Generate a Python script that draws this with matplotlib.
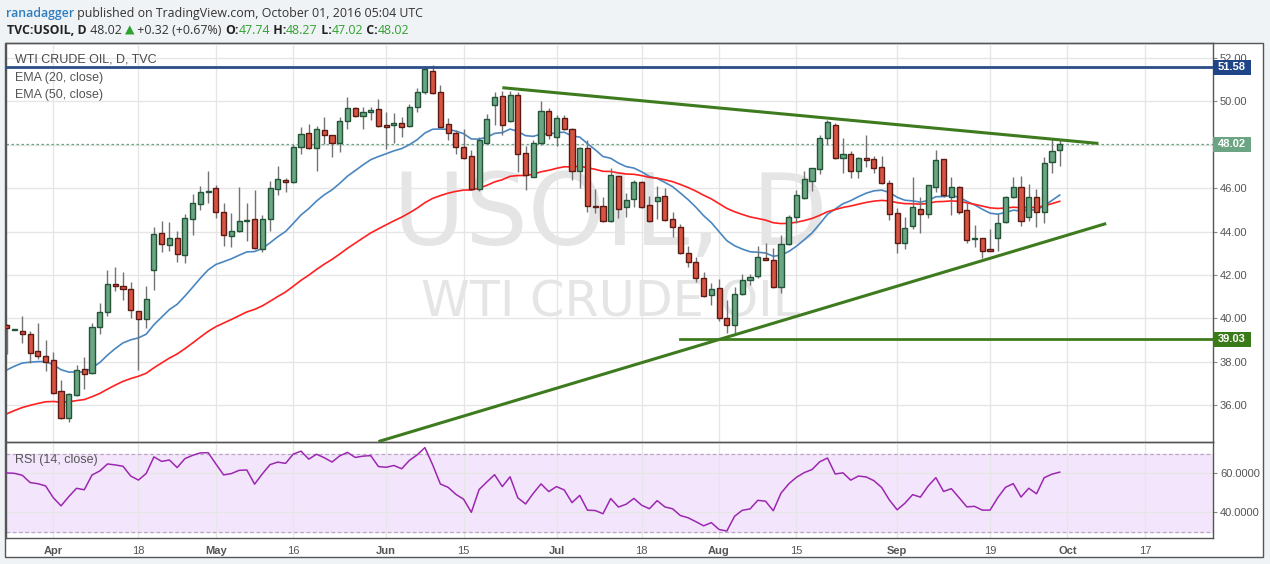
import numpy as np
import pandas as pd
import matplotlib
matplotlib.use("Agg")
import matplotlib.pyplot as plt
import matplotlib.transforms as mtransforms
from matplotlib.patches import Rectangle

# ------------------------------------------------------------
# data: TVC:USOIL daily bars, 2016-03-24 .. 2016-09-30 (every weekday)
dates = pd.bdate_range("2016-03-24", "2016-09-30")

opens = [
    39.69, 39.48, 39.40, 39.26, 38.49, 38.25, 38.06, 36.64, 35.39, 36.45,
    37.65, 37.47, 39.59, 40.28, 41.57, 41.47, 41.34, 40.32, 39.95, 42.21,
    43.92, 43.36, 43.69, 42.90, 44.56, 45.25, 45.84, 45.99, 44.88, 43.78,
    44.02, 44.47, 44.56, 43.18, 44.56, 45.94, 46.36, 46.30, 47.88, 48.53,
    47.83, 48.66, 48.43, 48.06, 49.08, 49.68, 49.31, 49.49, 49.63, 48.89,
    48.89, 48.99, 48.85, 49.72, 50.41, 51.41, 50.44, 48.94, 48.53, 47.88,
    47.47, 45.94, 48.09, 49.82, 50.24, 49.11, 50.28, 47.60, 46.53, 48.06,
    49.55, 48.34, 49.22, 48.71, 46.79, 47.83, 45.18, 45.18, 44.50, 46.54,
    45.12, 45.48, 46.28, 45.21, 45.42, 45.64, 44.56, 44.19, 43.02, 42.58,
    41.84, 41.06, 41.38, 40.00, 39.68, 41.11, 41.75, 41.94, 42.78, 42.67,
    41.46, 43.41, 44.65, 45.53, 46.33, 46.87, 48.29, 48.91, 47.37, 47.57,
    46.77, 47.37, 47.33, 46.96, 46.22, 44.84, 43.48, 44.27, 45.02, 44.79,
    46.06, 47.33, 45.60, 46.04, 44.98, 43.64, 43.69, 43.18, 43.69, 44.45,
    45.60, 46.04, 44.65, 45.58, 44.91, 47.19, 47.74,
]
highs = [
    39.75, 39.52, 40.10, 39.42, 39.78, 39.00, 38.45, 37.16, 36.55, 37.85,
    38.22, 39.80, 40.71, 42.23, 42.36, 42.13, 41.66, 40.35, 41.49, 44.19,
    44.48, 44.44, 44.02, 44.81, 45.71, 46.10, 46.77, 46.14, 45.30, 44.84,
    46.04, 45.31, 45.91, 44.76, 46.31, 47.02, 46.45, 48.02, 48.80, 48.95,
    48.86, 49.29, 48.45, 49.29, 50.18, 49.72, 49.72, 49.75, 50.11, 49.51,
    49.46, 49.29, 49.88, 50.60, 51.64, 51.67, 50.75, 49.24, 48.70, 48.71,
    47.76, 48.34, 49.41, 50.41, 50.47, 50.50, 50.41, 47.94, 48.22, 50.03,
    49.68, 49.37, 49.37, 48.75, 47.91, 48.22, 45.94, 45.60, 46.91, 46.58,
    45.76, 46.37, 46.33, 45.64, 46.10, 45.99, 44.91, 44.35, 43.33, 42.84,
    42.15, 41.64, 41.80, 40.84, 41.46, 42.04, 42.04, 43.35, 43.46, 43.25,
    43.84, 44.75, 45.91, 46.80, 46.95, 48.45, 49.14, 49.01, 48.29, 47.71,
    47.42, 48.45, 47.48, 47.48, 46.37, 45.07, 44.68, 46.50, 45.58, 46.15,
    47.76, 47.35, 46.50, 46.10, 45.31, 44.30, 43.72, 44.12, 44.81, 45.65,
    46.50, 46.56, 46.19, 45.94, 47.42, 48.25, 48.27,
]
lows = [
    38.35, 39.46, 38.88, 37.93, 38.12, 37.59, 36.50, 35.35, 35.24, 36.40,
    36.73, 37.45, 39.26, 40.12, 41.27, 40.84, 40.00, 37.62, 39.55, 41.30,
    43.07, 43.12, 42.61, 42.53, 43.84, 44.99, 45.30, 44.61, 43.33, 43.27,
    43.98, 43.58, 43.20, 43.07, 44.01, 45.67, 45.81, 46.22, 47.57, 47.80,
    46.80, 48.02, 47.45, 47.68, 48.74, 49.28, 48.74, 49.14, 48.82, 47.79,
    48.06, 48.37, 48.82, 49.52, 50.35, 50.32, 48.80, 48.22, 47.57, 47.35,
    45.90, 45.88, 48.05, 48.90, 48.45, 49.05, 46.76, 45.91, 46.50, 48.00,
    48.25, 47.95, 48.70, 46.37, 45.99, 44.91, 44.84, 44.45, 44.45, 44.61,
    44.68, 45.12, 45.08, 44.45, 44.58, 44.48, 43.76, 42.95, 42.38, 41.69,
    41.00, 40.61, 39.89, 39.31, 39.31, 41.08, 41.52, 41.84, 42.68, 41.40,
    41.15, 43.38, 44.41, 45.50, 45.88, 46.65, 47.99, 47.35, 46.68, 46.48,
    46.48, 46.99, 46.68, 46.20, 44.53, 43.02, 43.19, 44.13, 43.92, 44.61,
    45.83, 45.60, 44.76, 44.81, 43.48, 43.30, 42.79, 43.10, 43.12, 44.40,
    45.55, 44.25, 44.50, 44.22, 44.41, 46.68, 47.02,
]
closes = [
    39.54, 39.49, 39.26, 38.39, 38.25, 38.00, 36.54, 35.39, 36.50, 37.60,
    37.42, 39.59, 40.28, 41.57, 41.47, 41.34, 40.37, 39.95, 40.88, 43.87,
    43.41, 43.69, 42.95, 44.61, 45.30, 45.81, 45.86, 44.88, 43.82, 44.01,
    44.47, 44.52, 43.23, 44.56, 45.99, 46.41, 46.30, 47.91, 48.48, 47.83,
    48.71, 48.43, 48.09, 49.08, 49.68, 49.31, 49.51, 49.59, 48.85, 48.80,
    49.00, 48.80, 49.72, 50.41, 51.47, 50.37, 48.83, 48.53, 47.88, 47.40,
    45.94, 48.22, 49.17, 50.18, 48.90, 50.29, 47.56, 46.59, 48.06, 49.55,
    48.43, 49.22, 48.74, 46.79, 47.83, 45.18, 45.12, 44.50, 46.59, 45.05,
    45.45, 46.28, 45.12, 44.50, 45.58, 44.52, 44.19, 42.99, 42.58, 41.84,
    41.03, 41.34, 40.00, 39.68, 41.11, 41.75, 41.89, 42.81, 42.70, 41.43,
    43.41, 44.67, 45.67, 46.41, 46.91, 48.29, 49.03, 47.37, 47.57, 46.77,
    47.37, 47.28, 46.91, 46.22, 44.79, 43.46, 44.15, 45.12, 44.82, 46.13,
    47.28, 45.67, 46.04, 44.91, 43.60, 43.66, 43.12, 43.12, 44.38, 45.58,
    46.04, 44.50, 45.58, 44.91, 47.14, 47.70, 48.02,
]

# indicator values on the first visible bar
ema20_start = 37.62
ema50_start = 35.60
rsi_gain_start = 0.68
rsi_loss_start = 0.45

# drawn levels / trend lines (date, price)
resistance = 51.58
support = 39.03
support_from = "2016-07-25"
trend_down = (["2016-06-22", "2016-10-07"], [50.63, 48.06])
trend_up = (["2016-05-31", "2016-10-10"], [34.32, 44.37])

tick_dates = ["2016-04-01", "2016-04-18", "2016-05-02", "2016-05-16",
              "2016-06-01", "2016-06-15", "2016-07-01", "2016-07-18",
              "2016-08-01", "2016-08-15", "2016-09-01", "2016-09-19",
              "2016-10-03", "2016-10-17"]
tick_labels = ["Apr", "18", "May", "16", "Jun", "15", "Jul", "18",
               "Aug", "15", "Sep", "19", "Oct", "17"]

# ------------------------------------------------------------
o = np.array(opens)
h = np.array(highs)
l = np.array(lows)
c = np.array(closes)
x = np.arange(len(c))
alldays = pd.bdate_range("2016-03-24", "2016-11-30")


def pos(d):
    return alldays.get_loc(pd.Timestamp(d))


def ema(values, start, n):
    a = 2.0 / (n + 1)
    out = [start]
    for v in values[1:]:
        out.append(out[-1] + a * (v - out[-1]))
    return np.array(out)


def rsi(values, g0, l0, n=14):
    ag, al = g0, l0
    out = [100 - 100 / (1 + ag / al)]
    for d in np.diff(values):
        ag = (ag * (n - 1) + max(d, 0)) / n
        al = (al * (n - 1) + max(-d, 0)) / n
        out.append(100 - 100 / (1 + ag / al))
    return np.array(out)


ema20 = ema(c, ema20_start, 20)
ema50 = ema(c, ema50_start, 50)
rsi14 = rsi(c, rsi_gain_start, rsi_loss_start)

W, H = 1270.0, 564.0
AX_FONT = "Liberation Sans"
GRID = "#e6e6e6"
FRAME = "#555555"

fig = plt.figure(figsize=(12.7, 5.64), dpi=100)
fig.patch.set_facecolor("#f0f3f6")
fig.add_artist(Rectangle((5 / W, 1 - 557 / H), 1258 / W, 514 / H,
                         transform=fig.transFigure, facecolor="white",
                         edgecolor=FRAME, lw=1, zorder=-5))

ax = fig.add_axes([6 / W, 1 - 442 / H, 1207 / W, 399 / H])
ax_r = fig.add_axes([6 / W, 1 - 537.7 / H, 1207 / W, 95.7 / H], sharex=ax)

xmin = pos("2016-04-01") - 6.11
xmax = pos("2016-04-01") + 149.8
ax.set_xlim(xmin, xmax)
ax.set_ylim(34.30, 52.69)
ax_r.set_ylim(26.97, 76.05)

ticks = [pos(d) for d in tick_dates]
for a in (ax, ax_r):
    for s in a.spines.values():
        s.set_color(FRAME)
        s.set_linewidth(1)
    a.set_facecolor("none")
    a.set_xticks(ticks)
    a.grid(True, color=GRID, lw=1, zorder=0)
    a.set_axisbelow(True)
    a.yaxis.tick_right()
    a.tick_params(axis="y", length=3, color="#888888", labelsize=8,
                  labelcolor="#555555", pad=2)
ax.tick_params(axis="x", length=0, labelbottom=False)

ax.set_yticks(np.arange(36, 53, 2))
ax.set_yticklabels(["%.2f" % v for v in np.arange(36, 53, 2)], family=AX_FONT)

# watermark
ax.text(0.501, 0.494, "USOIL, D", transform=ax.transAxes, ha="center",
        va="baseline", fontsize=71, color="#e5e5e5", family="DejaVu Sans",
        zorder=0.5)
ax.text(0.501, 0.314, "WTI CRUDE OIL", transform=ax.transAxes, ha="center",
        va="baseline", fontsize=35.5, color="#e5e5e5", family="DejaVu Sans",
        zorder=0.5)

# last price line
ax.axhline(c[-1], color="#6ba583", lw=0.9, ls=(0, (2, 2)), zorder=1.5)

# EMAs
ax.plot(x, ema20, color="#4a86c0", lw=1.2, zorder=2)
ax.plot(x, ema50, color="#ff2020", lw=1.2, zorder=2)

# candles
up = c >= o
ax.vlines(x, l, h, color="#737375", lw=1, zorder=3)
body = np.maximum(np.abs(c - o), 0.05)
bottom = np.minimum(o, c)
ax.bar(x[up], body[up], bottom=bottom[up], width=0.66, color="#6ba583",
       edgecolor="#225437", lw=1, zorder=4)
ax.bar(x[~up], body[~up], bottom=bottom[~up], width=0.66, color="#d75442",
       edgecolor="#5b1a13", lw=1, zorder=4)

# drawings
ax.axhline(resistance, color="#2c4e86", lw=2, zorder=5)
ax.plot([pos(support_from), xmax], [support, support], color="#3e7b1f",
        lw=2, zorder=5)
ax.plot([pos(d) for d in trend_down[0]], trend_down[1], color="#3e7b1f",
        lw=2.2, zorder=5, solid_capstyle="butt")
ax.plot([pos(d) for d in trend_up[0]], trend_up[1], color="#3e7b1f",
        lw=2.2, zorder=5, solid_capstyle="butt")

# price tags on the scale
tag_tr = mtransforms.blended_transform_factory(ax.transAxes, ax.transData)
tag_w = 38 / 1207
tag_h = 15 / 21.7
for price, face in [(resistance, "#1e4687"), (c[-1], "#6ba583"),
                    (support, "#3a7a18")]:
    ax.add_patch(Rectangle((1.0, price - tag_h / 2), tag_w, tag_h,
                           transform=tag_tr, facecolor=face, edgecolor="none",
                           clip_on=False, zorder=10))
    ax.text(1.0 + tag_w / 2, price, "%.2f" % price, transform=tag_tr,
            ha="center", va="center", color="white", fontsize=8,
            fontweight="bold", family=AX_FONT, clip_on=False, zorder=11)

# RSI pane
ax_r.axhspan(30, 70, color="#f3e6fc", zorder=0)
for lvl in (30, 70):
    ax_r.axhline(lvl, color="#bba8c2", lw=0.9, ls=(0, (3, 2)), zorder=1)
ax_r.plot(x, rsi14, color="#9c27b0", lw=1.1, zorder=3)
ax_r.set_yticks([40, 60])
ax_r.set_yticklabels(["40.0000", "60.0000"], family=AX_FONT)
ax_r.set_xticklabels(tick_labels)
ax_r.tick_params(axis="x", length=0, labelsize=8, labelcolor="#555555", pad=6)
for t, lab in zip(ax_r.get_xticklabels(), tick_labels):
    t.set_family(AX_FONT)
    if not lab.isdigit():
        t.set_fontweight("bold")

# legend texts
fig.text(15 / W, 1 - 60 / H, "WTI CRUDE OIL, D, TVC", fontsize=9,
         color="#4a4a4a", va="center", family=AX_FONT, zorder=2)
fig.text(15 / W, 1 - 78 / H, "EMA (20, close)", fontsize=9,
         color="#555555", va="center", family=AX_FONT)
fig.text(15 / W, 1 - 95 / H, "EMA (50, close)", fontsize=9,
         color="#555555", va="center", family=AX_FONT)
fig.text(15 / W, 1 - 460 / H, "RSI (14, close)", fontsize=9,
         color="#555555", va="center", family=AX_FONT)

# header
HDR = ["Open Sans", "DejaVu Sans"]
renderer = fig.canvas.get_renderer()


def run(parts, x0, y0):
    xx = x0
    for txt, col, wt in parts:
        t = fig.text(xx / W, 1 - y0 / H, txt, color=col, fontweight=wt,
                     fontsize=8.9, va="center", family=HDR)
        xx = t.get_window_extent(renderer).x1


run([("ranadagger", "#2f7dbf", "semibold"),
     (" published on TradingView.com, October 01, 2016 05:04 UTC", "#333333",
      "normal")], 6, 13)
green = "#2fa12f"
run([("TVC:USOIL, D", "#222222", "bold"), (" 48.02 ", "#333333", "normal"),
     ("\u25b2", green, "normal"), (" +0.32 (+0.67%) ", "#333333", "normal"),
     ("O:", "#222222", "bold"), ("47.74", green, "normal"),
     (" H:", "#222222", "bold"), ("48.27", green, "normal"),
     (" L:", "#222222", "bold"), ("47.02", green, "normal"),
     (" C:", "#222222", "bold"), ("48.02", green, "normal")], 7, 30)

fig.savefig("out.png", dpi=100, facecolor=fig.get_facecolor())
